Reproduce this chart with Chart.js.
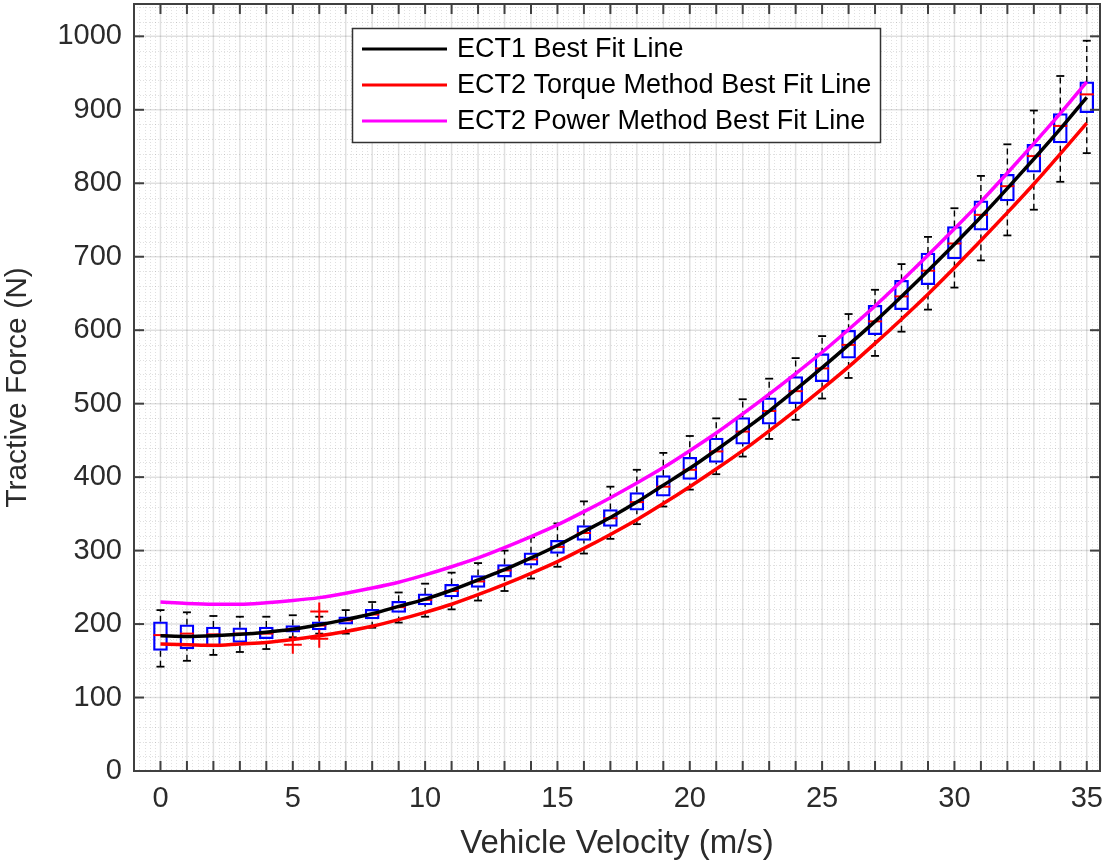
<!DOCTYPE html>
<html>
<head>
<meta charset="utf-8">
<script src="https://cdn.jsdelivr.net/npm/chart.js@4.4.0/dist/chart.umd.min.js"></script>
<style>
  html, body { margin: 0; padding: 0; background: #ffffff; }
  #wrap { width: 1106px; height: 864px; }
</style>
</head>
<body>
<div id="wrap"><canvas id="c" width="1106" height="864"></canvas></div>
<script>
// Velocity bins (m/s) for the box plots
const velocity = [0,1,2,3,4,5,6,7,8,9,10,11,12,13,14,15,16,17,18,19,20,21,22,23,24,25,26,27,28,29,30,31,32,33,34,35];

// Box plot statistics per velocity bin (N)
const whiskerLow  = [142,150,158,162,166,182,187,187,195,202,210,220,232,245,262,278,296,316,336,360,383,404,428,452,478,507,535,565,598,628,658,695,729,764,802,841];
const q1          = [164,166,169,175,180,189,192,200,207,216,226,237,250,264,280,296,314,333,355,374,397,420,445,472,500,530,562,594,628,662,697,736,776,815,855,896];
const median      = [185,187,186,187,187,193,198,205,213,223,233,245,258,273,288,305,324,344,366,387,410,435,462,490,517,548,580,612,646,681,718,757,796,837,878,921];
const q3          = [203,199,196,195,196,198,203,210,220,231,241,254,266,281,297,314,334,356,379,402,427,453,481,508,537,568,600,634,668,705,741,776,812,853,895,938];
const whiskerHigh = [219,216,211,210,210,212,210,219,230,243,255,270,283,300,318,337,367,387,410,433,456,480,506,534,562,592,622,655,690,727,766,810,853,899,946,994];

// Outliers
const outlierVelocity = [5, 6, 6];
const outlierForce    = [172, 217, 180];

// Best fit curves read at each velocity bin (N)
const ect1Fit   = [184,183,184,186,189,193,199,206,214,224,234,246,260,274,290,307,326,345,366,389,412,437,463,490,519,549,580,612,646,681,717,754,793,833,874,917];
const torqueFit = [173,172,171,173,175,179,184,190,197,206,216,227,240,254,269,285,303,322,342,364,387,411,436,463,491,520,550,582,615,649,685,722,760,799,840,882];
const powerFit  = [230,228,227,227,229,232,236,242,249,257,267,278,290,304,319,335,353,372,392,413,436,460,486,513,541,570,601,633,667,702,738,775,814,854,895,938];

// Axis tick values
const xTickValues = [0,5,10,15,20,25,30,35];
const yTickValues = [0,100,200,300,400,500,600,700,800,900,1000];

const legendItems = [
  { label: 'ECT1 Best Fit Line', color: '#000000' },
  { label: 'ECT2 Torque Method Best Fit Line', color: '#ff0000' },
  { label: 'ECT2 Power Method Best Fit Line', color: '#ff00ff' }
];

const FONT = '"Liberation Sans", Arial, sans-serif';

const pts = arr => velocity.map((v, i) => ({ x: v, y: arr[i] }));

// whisker segments, separated by gaps
const whiskerData = [];
velocity.forEach((v, i) => {
  whiskerData.push({ x: v, y: q3[i] }, { x: v, y: whiskerHigh[i] }, { x: v, y: null });
  whiskerData.push({ x: v, y: whiskerLow[i] }, { x: v, y: q1[i] }, { x: v, y: null });
});
const capData = [];
velocity.forEach((v, i) => {
  capData.push({ x: v, y: whiskerHigh[i] }, { x: v, y: whiskerLow[i] });
});

// Axes box, MATLAB-style grid, inward ticks and the legend
const axesPlugin = {
  id: 'axesPlugin',
  beforeDatasetsDraw(chart) {
    const { ctx, chartArea: a, scales: { x, y } } = chart;
    ctx.save();
    ctx.beginPath();
    ctx.rect(a.left, a.top, a.right - a.left, a.bottom - a.top);
    ctx.clip();
    // minor dotted grid
    ctx.strokeStyle = 'rgba(0,0,0,0.12)';
    ctx.lineWidth = 1;
    ctx.setLineDash([1, 2]);
    for (let k = -5; k <= 178; k++) {
      const v = k * 0.2;
      if (k % 5 === 0) continue;
      const px = Math.round(x.getPixelForValue(v)) + 0.5;
      ctx.beginPath(); ctx.moveTo(px, a.top); ctx.lineTo(px, a.bottom); ctx.stroke();
    }
    for (let v = 0; v <= 1060; v += 20) {
      if (v % 100 === 0) continue;
      const py = Math.round(y.getPixelForValue(v)) + 0.5;
      ctx.beginPath(); ctx.moveTo(a.left, py); ctx.lineTo(a.right, py); ctx.stroke();
    }
    // major grid
    ctx.setLineDash([]);
    ctx.strokeStyle = 'rgba(0,0,0,0.12)';
    ctx.lineWidth = 1.5;
    for (let v = -1; v <= 35; v++) {
      const px = x.getPixelForValue(v);
      ctx.beginPath(); ctx.moveTo(px, a.top); ctx.lineTo(px, a.bottom); ctx.stroke();
    }
    for (let v = 0; v <= 1000; v += 100) {
      const py = y.getPixelForValue(v);
      ctx.beginPath(); ctx.moveTo(a.left, py); ctx.lineTo(a.right, py); ctx.stroke();
    }
    ctx.restore();
  },
  afterDatasetsDraw(chart) {
    const { ctx, chartArea: a, scales: { x, y } } = chart;
    ctx.save();
    ctx.strokeStyle = '#404040';
    ctx.lineWidth = 2;
    // inward ticks
    for (let v = 0; v <= 35; v++) {
      const px = x.getPixelForValue(v);
      ctx.beginPath(); ctx.moveTo(px, a.bottom); ctx.lineTo(px, a.bottom - 10); ctx.stroke();
      ctx.beginPath(); ctx.moveTo(px, a.top); ctx.lineTo(px, a.top + 10); ctx.stroke();
    }
    yTickValues.forEach(v => {
      const py = y.getPixelForValue(v);
      ctx.beginPath(); ctx.moveTo(a.left, py); ctx.lineTo(a.left + 10, py); ctx.stroke();
      ctx.beginPath(); ctx.moveTo(a.right, py); ctx.lineTo(a.right - 10, py); ctx.stroke();
    });
    ctx.strokeRect(a.left, a.top, a.right - a.left, a.bottom - a.top);

    // legend
    const lx = 352, ly = 28, lw = 528, lh = 114;
    ctx.fillStyle = '#ffffff';
    ctx.fillRect(lx, ly, lw, lh);
    ctx.strokeStyle = '#333333';
    ctx.lineWidth = 1.5;
    ctx.strokeRect(lx + 0.5, ly + 0.5, lw, lh);
    ctx.font = '27px ' + FONT;
    ctx.textBaseline = 'middle';
    legendItems.forEach((it, i) => {
      const yy = ly + 21 + i * 36;
      ctx.strokeStyle = it.color;
      ctx.lineWidth = 3;
      ctx.beginPath(); ctx.moveTo(lx + 10, yy); ctx.lineTo(lx + 95, yy); ctx.stroke();
      ctx.fillStyle = '#000000';
      ctx.fillText(it.label, lx + 105, yy + 1);
    });
    ctx.restore();
  }
};

new Chart(document.getElementById('c'), {
  type: 'bar',
  data: {
    datasets: [
      { type: 'line', label: 'ECT2 Power Method Best Fit Line', data: pts(powerFit),
        borderColor: '#ff00ff', borderWidth: 3.5, pointRadius: 0, cubicInterpolationMode: 'monotone', order: 1 },
      { type: 'line', label: 'ECT1 Best Fit Line', data: pts(ect1Fit),
        borderColor: '#000000', borderWidth: 3.5, pointRadius: 0, cubicInterpolationMode: 'monotone', order: 2 },
      { type: 'line', label: 'ECT2 Torque Method Best Fit Line', data: pts(torqueFit),
        borderColor: '#ff0000', borderWidth: 3.5, pointRadius: 0, cubicInterpolationMode: 'monotone', order: 3 },
      { type: 'line', label: 'outliers',
        data: outlierVelocity.map((v, i) => ({ x: v, y: outlierForce[i] })),
        showLine: false, pointStyle: 'cross', pointRadius: 9, borderColor: '#ff0000',
        pointBorderWidth: 2, order: 4 },
      { type: 'line', label: 'median', data: pts(median), showLine: false,
        pointStyle: 'line', pointRadius: 7, borderColor: '#ff0000', pointBorderWidth: 2, order: 5 },
      { type: 'bar', label: 'box', data: velocity.map((v, i) => ({ x: v, y: [q1[i], q3[i]] })),
        backgroundColor: 'rgba(0,0,0,0)', borderColor: '#0000ff', borderWidth: 1.6,
        borderSkipped: false, barThickness: 14, order: 6 },
      { type: 'line', label: 'whisker', data: whiskerData, spanGaps: false,
        borderColor: '#000000', borderWidth: 1.4, borderDash: [6, 4], pointRadius: 0, order: 7 },
      { type: 'line', label: 'cap', data: capData, showLine: false,
        pointStyle: 'line', pointRadius: 4, borderColor: '#000000', pointBorderWidth: 1.8, order: 8 }
    ]
  },
  options: {
    responsive: false,
    devicePixelRatio: 1,
    animation: false,
    events: [],
    layout: { autoPadding: false, padding: { top: 4, right: 6, left: 0, bottom: 0 } },
    plugins: { legend: { display: false }, tooltip: { enabled: false } },
    scales: {
      x: {
        type: 'linear', min: -1, max: 35.5, offset: false,
        grid: { display: false, drawTicks: false },
        border: { display: false },
        afterBuildTicks: s => { s.ticks = xTickValues.map(v => ({ value: v })); },
        afterFit: s => { s.height = 93; s.paddingLeft = 0; s.paddingRight = 0; },
        ticks: { color: '#2b2b2b', font: { family: FONT, size: 29 }, padding: 11, maxRotation: 0,
                 autoSkip: false, callback: v => String(v) },
        title: { display: true, text: 'Vehicle Velocity (m/s)', color: '#2b2b2b',
                 font: { family: FONT, size: 33 }, padding: { top: 0, bottom: 0 } }
      },
      y: {
        type: 'linear', min: 0, max: 1044,
        grid: { display: false, drawTicks: false },
        border: { display: false },
        afterBuildTicks: s => { s.ticks = yTickValues.map(v => ({ value: v })); },
        afterFit: s => { s.width = 134; s.paddingTop = 0; s.paddingBottom = 0; },
        ticks: { color: '#2b2b2b', font: { family: FONT, size: 29 }, padding: 12, autoSkip: false,
                 callback: v => String(v) },
        title: { display: true, text: 'Tractive Force (N)', color: '#2b2b2b',
                 font: { family: FONT, size: 30 }, padding: { top: 0, bottom: 0 } }
      }
    }
  },
  plugins: [axesPlugin]
});
</script>
</body>
</html>
